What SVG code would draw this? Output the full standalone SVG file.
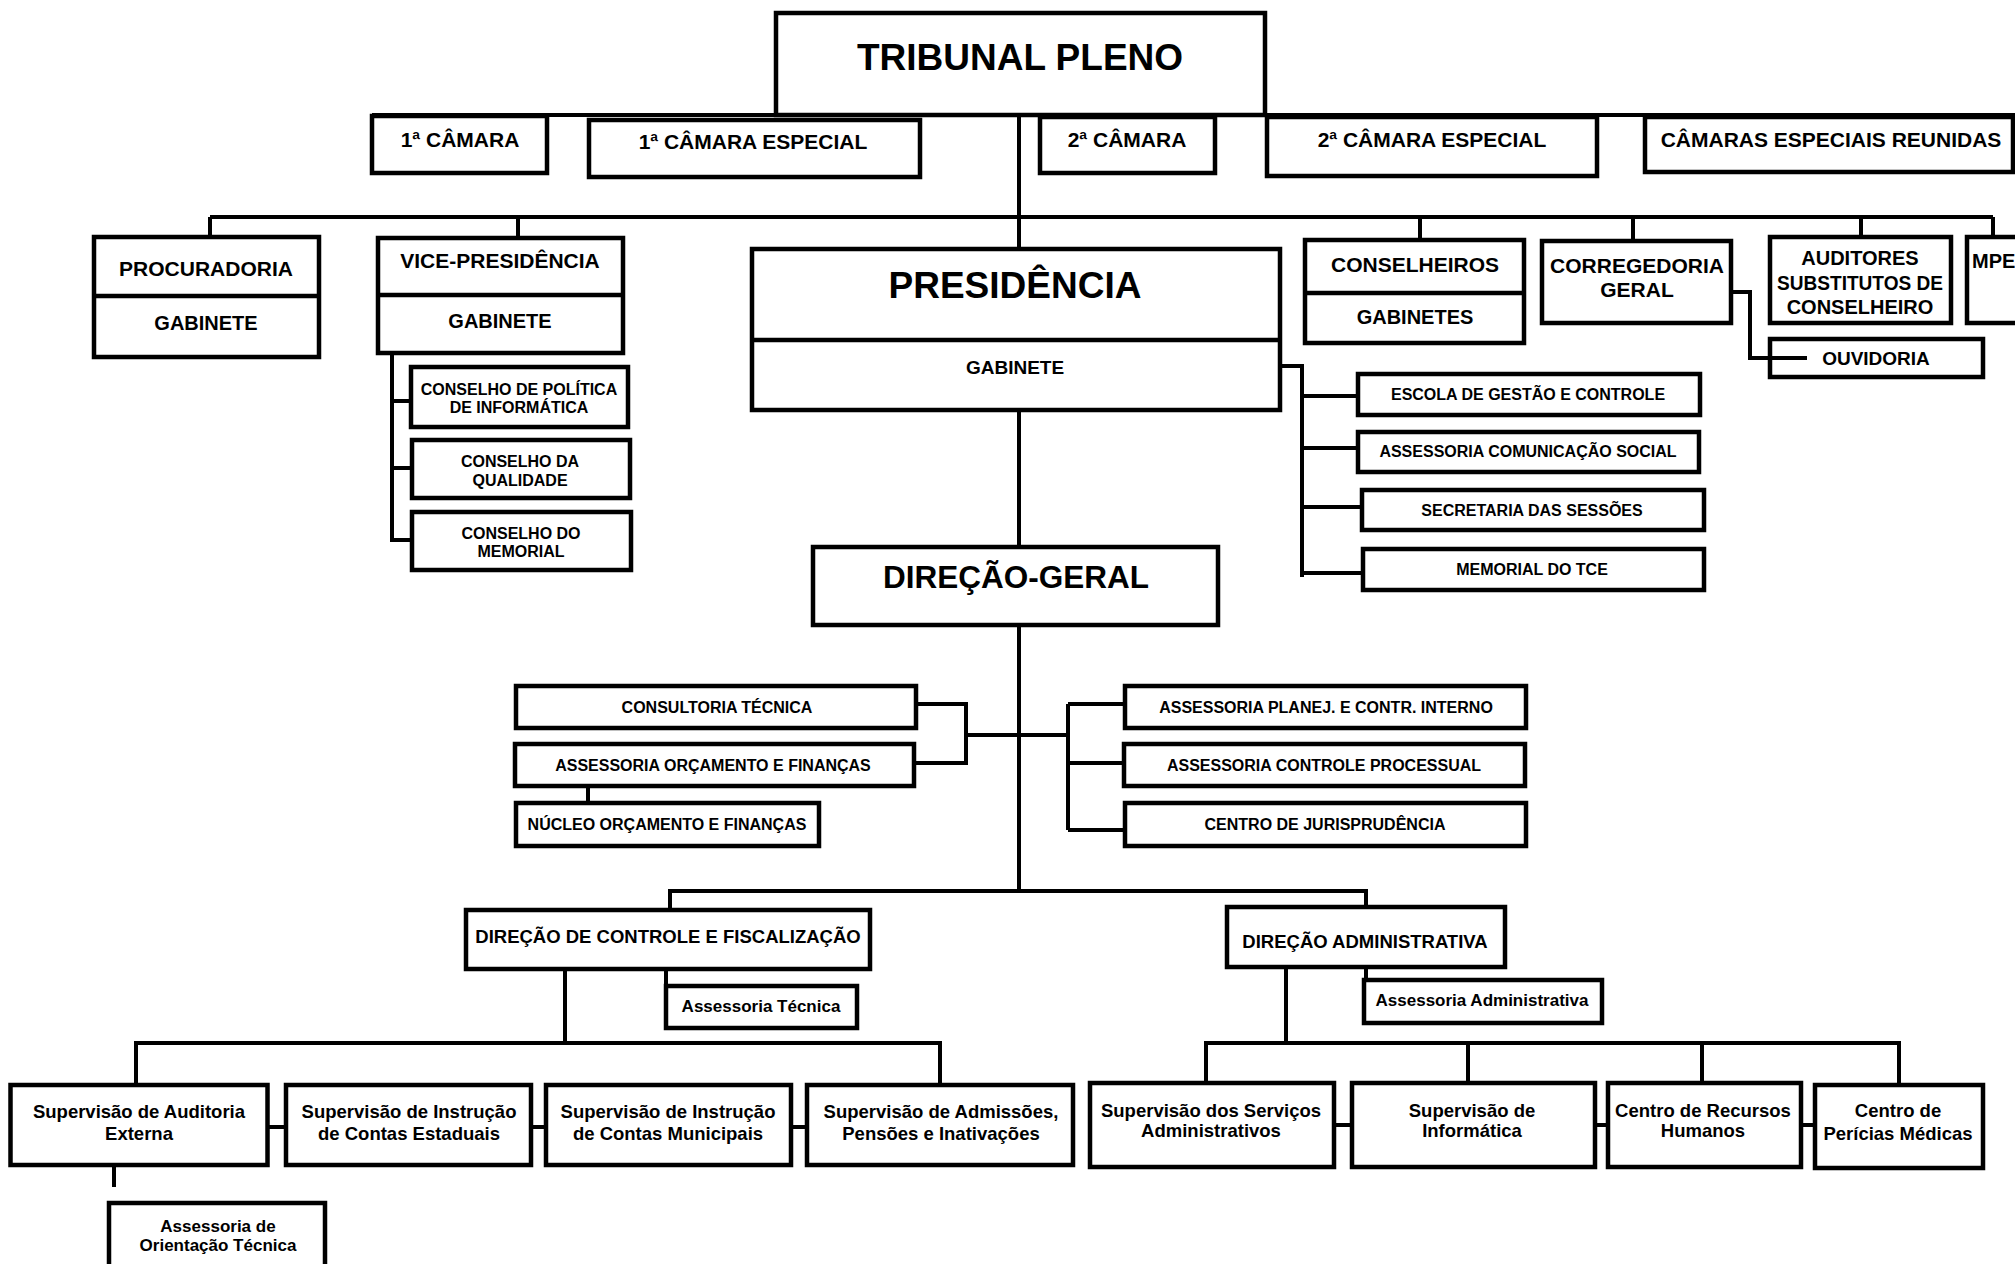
<svg xmlns="http://www.w3.org/2000/svg" width="2015" height="1264" viewBox="0 0 2015 1264">
<style>
.b{fill:#fff;stroke:#000;stroke-width:4.5}
.d{fill:none;stroke:#000;stroke-width:4.5}
.c{fill:none;stroke:#000;stroke-width:4;stroke-linejoin:miter}
text{font-family:"Liberation Sans",Arial,sans-serif;font-weight:bold;fill:#000;text-anchor:middle}
.f37{font-size:37px}.f32{font-size:31.5px}.f21{font-size:21px}.f20{font-size:20px}.f19{font-size:19px}.f185{font-size:18.5px}.f17{font-size:17px}.f16{font-size:16px}
</style>
<rect width="2015" height="1264" fill="#fff"/>
<g id="tribunal-pleno"><rect class="b" x="776" y="13" width="489" height="102"/><text class="f37" x="1020" y="70">TRIBUNAL PLENO</text></g>
<g id="camara1"><rect class="b" x="372" y="116" width="175" height="57"/><text class="f21" x="460" y="147">1ª CÂMARA</text></g>
<g id="camara1-especial"><rect class="b" x="589" y="120" width="331" height="57"/><text class="f21" x="753" y="149">1ª CÂMARA ESPECIAL</text></g>
<g id="camara2"><rect class="b" x="1040" y="117" width="175" height="56"/><text class="f21" x="1127" y="147">2ª CÂMARA</text></g>
<g id="camara2-especial"><rect class="b" x="1267" y="117" width="330" height="59"/><text class="f21" x="1432" y="147">2ª CÂMARA ESPECIAL</text></g>
<g id="camaras-reunidas"><rect class="b" x="1645" y="117" width="368" height="55"/><text class="f21" x="1831" y="147">CÂMARAS ESPECIAIS REUNIDAS</text></g>
<g id="procuradoria"><rect class="b" x="94" y="237" width="225" height="120"/><line class="d" x1="94" y1="296" x2="319" y2="296"/><text class="f21" x="206" y="276">PROCURADORIA</text><text class="f20" x="206" y="330">GABINETE</text></g>
<g id="vice-presidencia"><rect class="b" x="378" y="238" width="245" height="115"/><line class="d" x1="378" y1="295" x2="623" y2="295"/><text class="f21" x="500" y="268">VICE-PRESIDÊNCIA</text><text class="f20" x="500" y="328">GABINETE</text></g>
<g id="conselho-informatica"><rect class="b" x="411" y="367" width="217" height="60"/><text class="f16" x="519" y="395">CONSELHO DE POLÍTICA</text><text class="f16" x="519" y="413">DE INFORMÁTICA</text></g>
<g id="conselho-qualidade"><rect class="b" x="412" y="440" width="218" height="58"/><text class="f16" x="520" y="467">CONSELHO DA</text><text class="f16" x="520" y="486">QUALIDADE</text></g>
<g id="conselho-memorial"><rect class="b" x="412" y="512" width="219" height="58"/><text class="f16" x="521" y="539">CONSELHO DO</text><text class="f16" x="521" y="557">MEMORIAL</text></g>
<g id="presidencia"><rect class="b" x="752" y="249" width="528" height="161"/><line class="d" x1="752" y1="340" x2="1280" y2="340"/><text class="f37" x="1015" y="298">PRESIDÊNCIA</text><text class="f19" x="1015" y="374">GABINETE</text></g>
<g id="escola"><rect class="b" x="1358" y="374" width="342" height="41"/><text class="f16" x="1528" y="400">ESCOLA DE GESTÃO E CONTROLE</text></g>
<g id="comunicacao"><rect class="b" x="1358" y="432" width="341" height="40"/><text class="f16" x="1528" y="457">ASSESSORIA COMUNICAÇÃO SOCIAL</text></g>
<g id="secretaria"><rect class="b" x="1362" y="490" width="342" height="40"/><text class="f16" x="1532" y="516">SECRETARIA DAS SESSÕES</text></g>
<g id="memorial"><rect class="b" x="1363" y="549" width="341" height="41"/><text class="f16" x="1532" y="575">MEMORIAL DO TCE</text></g>
<g id="conselheiros"><rect class="b" x="1305" y="240" width="219" height="103"/><line class="d" x1="1305" y1="293" x2="1524" y2="293"/><text class="f21" x="1415" y="272">CONSELHEIROS</text><text class="f20" x="1415" y="324">GABINETES</text></g>
<g id="corregedoria"><rect class="b" x="1542" y="241" width="189" height="82"/><text class="f21" x="1637" y="273">CORREGEDORIA</text><text class="f21" x="1637" y="297">GERAL</text></g>
<g id="auditores"><rect class="b" x="1770" y="237" width="181" height="86"/><text class="f20" x="1860" y="265">AUDITORES</text><text class="f20" x="1860" y="290" textLength="166" lengthAdjust="spacingAndGlyphs">SUBSTITUTOS DE</text><text class="f20" x="1860" y="314">CONSELHEIRO</text></g>
<g id="mpe"><rect class="b" x="1967" y="237" width="80" height="86"/><text class="f20" x="1972" y="268" style="text-anchor:start">MPE</text></g>
<g id="ouvidoria"><rect class="b" x="1770" y="339" width="213" height="38"/><text class="f19" x="1876" y="365">OUVIDORIA</text></g>
<g id="direcao-geral"><rect class="b" x="813" y="547" width="405" height="78"/><text class="f32" x="1016" y="588">DIREÇÃO-GERAL</text></g>
<g id="consultoria"><rect class="b" x="516" y="686" width="400" height="42"/><text class="f16" x="717" y="713">CONSULTORIA TÉCNICA</text></g>
<g id="assessoria-orcamento"><rect class="b" x="515" y="744" width="399" height="42"/><text class="f16" x="713" y="771">ASSESSORIA ORÇAMENTO E FINANÇAS</text></g>
<g id="nucleo-orcamento"><rect class="b" x="516" y="803" width="303" height="43"/><text class="f16" x="667" y="830">NÚCLEO ORÇAMENTO E FINANÇAS</text></g>
<g id="assessoria-planej"><rect class="b" x="1125" y="686" width="401" height="42"/><text class="f16" x="1326" y="713">ASSESSORIA PLANEJ. E CONTR. INTERNO</text></g>
<g id="assessoria-processual"><rect class="b" x="1124" y="744" width="401" height="42"/><text class="f16" x="1324" y="771">ASSESSORIA CONTROLE PROCESSUAL</text></g>
<g id="jurisprudencia"><rect class="b" x="1125" y="803" width="401" height="43"/><text class="f16" x="1325" y="830">CENTRO DE JURISPRUDÊNCIA</text></g>
<g id="direcao-controle"><rect class="b" x="466" y="910" width="404" height="59"/><text class="f185" x="668" y="943">DIREÇÃO DE CONTROLE E FISCALIZAÇÃO</text></g>
<g id="assessoria-tecnica"><rect class="b" x="666" y="986" width="191" height="42"/><text class="f17" x="761" y="1012">Assessoria Técnica</text></g>
<g id="sup-auditoria"><rect class="b" x="10.5" y="1085" width="257" height="80"/><text class="f185" x="139" y="1118">Supervisão de Auditoria</text><text class="f185" x="139" y="1140">Externa</text></g>
<g id="sup-estaduais"><rect class="b" x="286" y="1085" width="245" height="80"/><text class="f185" x="409" y="1118">Supervisão de Instrução</text><text class="f185" x="409" y="1140">de Contas Estaduais</text></g>
<g id="sup-municipais"><rect class="b" x="546" y="1085" width="245" height="80"/><text class="f185" x="668" y="1118">Supervisão de Instrução</text><text class="f185" x="668" y="1140">de Contas Municipais</text></g>
<g id="sup-admissoes"><rect class="b" x="807" y="1085" width="266" height="80"/><text class="f185" x="941" y="1118">Supervisão de Admissões,</text><text class="f185" x="941" y="1140">Pensões e Inativações</text></g>
<g id="assessoria-orientacao"><rect class="b" x="109" y="1203" width="216" height="80"/><text class="f17" x="218" y="1232">Assessoria de</text><text class="f17" x="218" y="1251">Orientação Técnica</text></g>
<g id="direcao-administrativa"><rect class="b" x="1227" y="907" width="278" height="60"/><text class="f185" x="1365" y="948">DIREÇÃO ADMINISTRATIVA</text></g>
<g id="assessoria-administrativa"><rect class="b" x="1364" y="980" width="238" height="43"/><text class="f17" x="1482" y="1006">Assessoria Administrativa</text></g>
<g id="sup-servicos"><rect class="b" x="1090" y="1083" width="244" height="84"/><text class="f185" x="1211" y="1117">Supervisão dos Serviços</text><text class="f185" x="1211" y="1137">Administrativos</text></g>
<g id="sup-informatica"><rect class="b" x="1352" y="1083" width="243" height="84"/><text class="f185" x="1472" y="1117">Supervisão de</text><text class="f185" x="1472" y="1137">Informática</text></g>
<g id="centro-rh"><rect class="b" x="1608" y="1083" width="193" height="84"/><text class="f185" x="1703" y="1117">Centro de Recursos</text><text class="f185" x="1703" y="1137">Humanos</text></g>
<g id="centro-pericias"><rect class="b" x="1815" y="1085" width="168" height="83"/><text class="f185" x="1898" y="1117">Centro de</text><text class="f185" x="1898" y="1140">Perícias Médicas</text></g>
<g id="connectors">
<path class="c" d="M372 115 H2015 M1019 115 V249"/>
<path class="c" d="M210 217 H1993 M210 217 V237 M518 217 V238 M1420 217 V240 M1633 217 V241 M1861 217 V237 M1993 217 V237"/>
<path class="c" d="M392 353 V542 M392 401 H411 M392 468 H412 M392 540 H412"/>
<path class="c" d="M1731 292 H1750 V358 H1807"/>
<path class="c" d="M1280 366 H1302 V577 M1302 396 H1358 M1302 448 H1358 M1302 507 H1362 M1302 573 H1363"/>
<path class="c" d="M1019 410 V547 M1019 625 V891"/>
<path class="c" d="M916 704 H966 V763 H914 M966 735 H1068 M1068 704 V830 M1068 704 H1125 M1068 763 H1124 M1068 830 H1125 M588 786 V803"/>
<path class="c" d="M670 910 V891 H1366 V907"/>
<path class="c" d="M565 969 V1043 M666 969 V986 M136 1085 V1043 H940 V1085"/>
<path class="c" d="M267 1127 H286 M531 1127 H546 M791 1127 H807 M114 1165 V1187"/>
<path class="c" d="M1286 967 V1043 M1366 967 V980 M1206 1083 V1043 H1899 V1085 M1468 1043 V1083 M1702 1043 V1083"/>
<path class="c" d="M1334 1125 H1352 M1595 1125 H1608 M1801 1125 H1815"/>
</g>
</svg>
